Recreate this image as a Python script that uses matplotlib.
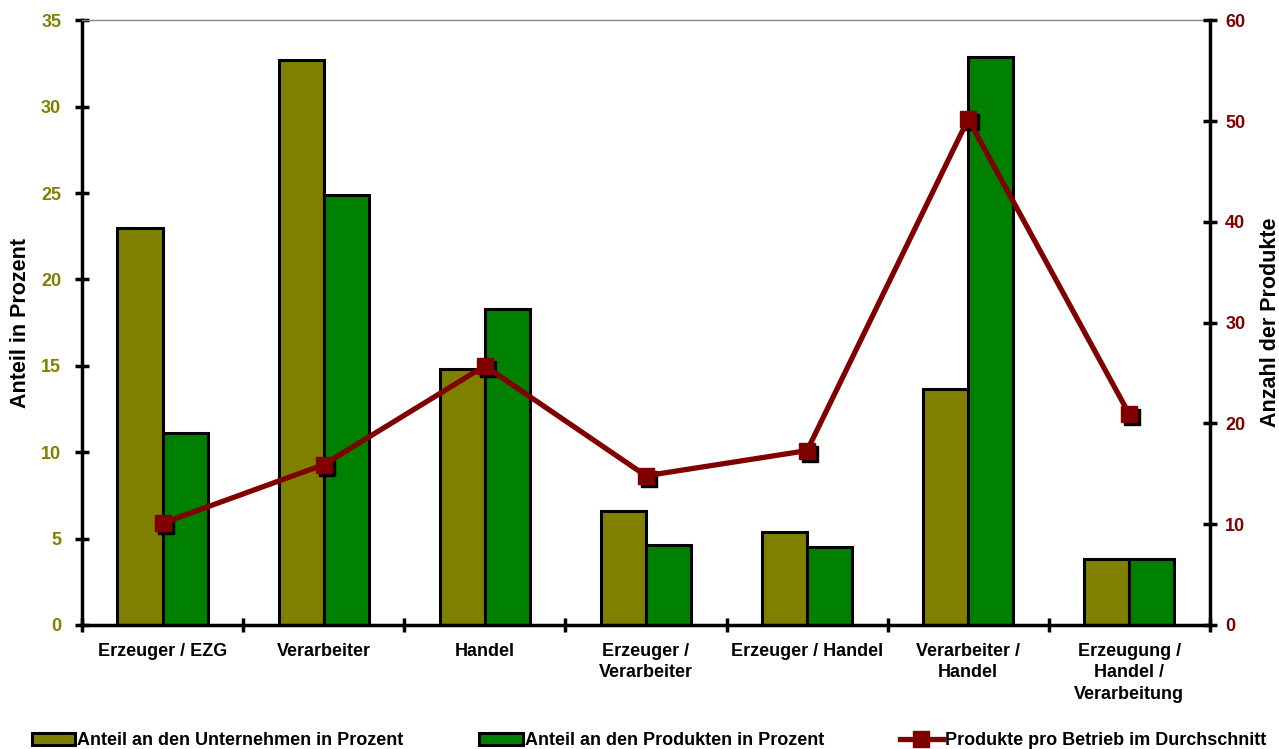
import matplotlib
matplotlib.use("Agg")
import matplotlib.pyplot as plt
import matplotlib.transforms as mtransforms
import numpy as np

plt.rcParams['font.family'] = ['Liberation Sans', 'DejaVu Sans']
plt.rcParams['font.weight'] = 'bold'

categories = ["Erzeuger / EZG", "Verarbeiter", "Handel", "Erzeuger /\nVerarbeiter",
              "Erzeuger / Handel", "Verarbeiter /\nHandel", "Erzeugung /\nHandel /\nVerarbeitung"]
anteil_unternehmen = [23.0, 32.7, 14.8, 6.6, 5.4, 13.65, 3.8]
anteil_produkte = [11.1, 24.9, 18.3, 4.6, 4.5, 32.85, 3.8]
produkte_pro_betrieb = [10.1, 15.9, 25.7, 14.8, 17.3, 50.2, 20.9]

olive = '#808000'
green = '#008000'
red = '#800000'

fig = plt.figure(figsize=(12.79, 7.49), dpi=100)
ax = fig.add_axes([0.0641, 0.1656, 0.8819, 0.8074])
x = np.arange(len(categories))
w = 0.28

ax.bar(x - w/2, anteil_unternehmen, w, color=olive, edgecolor='black', linewidth=2.2,
       label='Anteil an den Unternehmen in Prozent')
ax.bar(x + w/2, anteil_produkte, w, color=green, edgecolor='black', linewidth=2.2,
       label='Anteil an den Produkten in Prozent')

ax.set_xlim(-0.5, len(categories) - 0.5)
ax.set_ylim(0, 35)
ax.set_yticks(range(0, 36, 5))
ax.set_xticks(np.arange(-0.5, len(categories), 1.0))
ax.set_xticklabels([])
ax.set_xticks(x, minor=True)
ax.set_xticklabels(categories, minor=True, fontsize=13, fontweight='bold', linespacing=1.33,
                   va='top')
ax.tick_params(axis='x', which='minor', length=0, pad=13)
ax.tick_params(axis='x', which='major', direction='inout', length=10, width=2.5)
ax.tick_params(axis='y', direction='inout', length=10, width=2.5, labelsize=13,
               labelcolor=olive, pad=10)
for lab in ax.get_yticklabels():
    lab.set_fontweight('bold')
ax.spines['left'].set_linewidth(2.5)
ax.spines['bottom'].set_linewidth(2.5)
ax.spines['top'].set_color('#888888')
ax.spines['top'].set_linewidth(1)
ax.spines['right'].set_visible(False)
ax.set_ylabel('Anteil in Prozent', fontsize=15.5, fontweight='bold')
ax.yaxis.set_label_coords(-0.0545, 0.5)
ax.yaxis.label.set_va('center')

ax2 = ax.twinx()
ax2.set_ylim(0, 60)
ax2.set_yticks(range(0, 61, 10))
ax2.tick_params(axis='y', direction='inout', length=10, width=2.5, labelsize=13,
                labelcolor=red, pad=6)
for lab in ax2.get_yticklabels():
    lab.set_fontweight('bold')
ax2.spines['right'].set_linewidth(2.5)
ax2.spines['top'].set_visible(False)
ax2.spines['left'].set_visible(False)
ax2.spines['bottom'].set_visible(False)
ax2.set_ylabel('Anzahl der Produkte', fontsize=15.5, fontweight='bold', rotation=90)
ax2.yaxis.set_label_coords(1.0535, 0.5)
ax2.yaxis.label.set_va('center')

shadow = mtransforms.offset_copy(ax2.transData, fig=fig, x=3, y=-3, units='dots')
ax2.plot(x, produkte_pro_betrieb, linestyle='none', marker='s', markersize=12,
         color='black', transform=shadow, zorder=3)
ax2.plot(x, produkte_pro_betrieb, color=red, linewidth=3.8, marker='s', markersize=12,
         markeredgecolor=red, zorder=4, label='Produkte pro Betrieb im Durchschnitt')

h1, l1 = ax.get_legend_handles_labels()
h2, l2 = ax2.get_legend_handles_labels()
fig.legend(h1 + h2, l1 + l2, loc='center', bbox_to_anchor=(0.025, 0.0107, 0.965, 0),
           mode='expand', ncol=3, frameon=False, handlelength=2.4,
           handletextpad=0.1, borderpad=0, borderaxespad=0, prop={'weight': 'bold', 'size': 13})

fig.savefig('out.png', dpi=100)
